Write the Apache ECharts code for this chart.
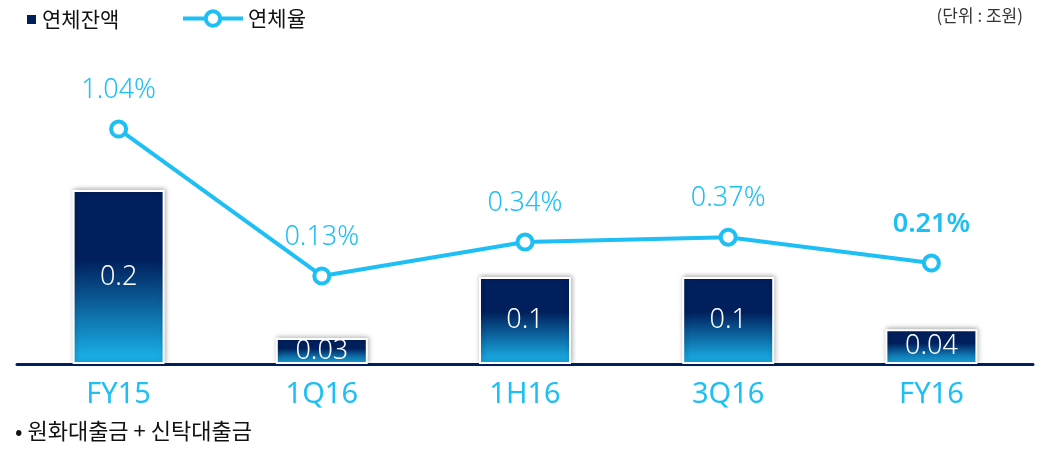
<!DOCTYPE html>
<html>
<head>
<meta charset="utf-8">
<style>
  html, body { margin: 0; padding: 0; background: #fff; }
  #chart { width: 1047px; height: 449px; }
</style>
<script src="https://cdn.jsdelivr.net/npm/echarts@6/dist/echarts.min.js"></script>
</head>
<body>
<div id="chart"></div>
<script>
const categories = ["FY15", "1Q16", "1H16", "3Q16", "FY16"];
const balanceValues = [0.2, 0.03, 0.1, 0.1, 0.04]; // 연체잔액 (조원)
const rateValues = [1.04, 0.13, 0.34, 0.37, 0.21]; // 연체율 (%)

const NAVY = "#001f5c";
const CYAN = "#1dbff5";
const FONT = "'Noto Sans', 'Noto Sans CJK KR', sans-serif";
const KR = "'Noto Sans CJK KR', sans-serif";

const chart = echarts.init(document.getElementById("chart"));

const option = {
  animation: false,
  textStyle: { fontFamily: FONT },
  legend: [
    {
      left: 20,
      top: 4,
      data: [{ name: "연체잔액", icon: "rect", itemStyle: { color: NAVY } }],
      itemWidth: 11,
      itemHeight: 11,
      itemGap: 8,
      textStyle: { fontSize: 21, color: "#111", fontFamily: KR },
    },
    {
      left: 176,
      top: 3,
      data: ["연체율"],
      itemWidth: 60,
      itemHeight: 18,
      itemGap: 10,
      lineStyle: { width: 4, color: CYAN },
      itemStyle: { color: "#fff", borderColor: CYAN, borderWidth: 4 },
      textStyle: { fontSize: 21, color: "#111", fontFamily: KR },
    },
  ],
  grid: { left: 17, right: 14, top: 16, bottom: 85 },
  xAxis: {
    type: "category",
    data: categories,
    axisLine: { lineStyle: { color: NAVY, width: 3 } },
    axisTick: { alignWithLabel: true, length: 8, lineStyle: { color: NAVY, width: 2 } },
    axisLabel: { fontSize: 29, color: CYAN, margin: 16, fontFamily: FONT },
  },
  yAxis: [
    { type: "value", min: 0, max: 0.4, show: false },
    { type: "value", min: -0.415, max: 1.74, show: false },
  ],
  series: [
    {
      name: "연체잔액",
      type: "bar",
      yAxisIndex: 0,
      barWidth: 92,
      data: balanceValues,
      itemStyle: {
        color: new echarts.graphic.LinearGradient(0, 0, 0, 1, [
          { offset: 0, color: NAVY },
          { offset: 0.4, color: NAVY },
          { offset: 1, color: "#1bb8f0" },
        ]),
        borderColor: "#fff",
        borderWidth: 2,
        shadowColor: "rgba(0,0,0,0.3)",
        shadowBlur: 5,
        shadowOffsetX: 1,
        shadowOffsetY: -1,
      },
      label: {
        show: true,
        position: "inside",
        color: "#fff",
        fontSize: 27,
        fontWeight: 300,
        fontFamily: FONT,
      },
      z: 2,
    },
    {
      name: "연체율",
      type: "line",
      yAxisIndex: 1,
      data: rateValues.map((v, i) => ({
        value: v,
        label: i === rateValues.length - 1 ? { fontWeight: 600 } : {},
      })),
      symbol: "circle",
      symbolSize: 15,
      lineStyle: { color: CYAN, width: 4 },
      itemStyle: { color: "#fff", borderColor: CYAN, borderWidth: 4 },
      label: {
        show: true,
        position: "top",
        distance: 16,
        color: CYAN,
        fontSize: 27,
        fontWeight: 300,
        fontFamily: FONT,
        formatter: (p) => p.value + "%",
      },
      z: 5,
    },
  ],
  graphic: [
    {
      type: "text",
      right: 24,
      top: 7,
      style: { text: "(단위 : 조원)", fontSize: 17, fill: "#333", fontFamily: KR },
    },
    {
      type: "text",
      left: 15,
      top: 420,
      style: { text: "• 원화대출금 + 신탁대출금", fontSize: 22, fill: "#111", fontFamily: KR },
    },
  ],
};

chart.setOption(option);
window.addEventListener("resize", () => chart.resize());
</script>
</body>
</html>
